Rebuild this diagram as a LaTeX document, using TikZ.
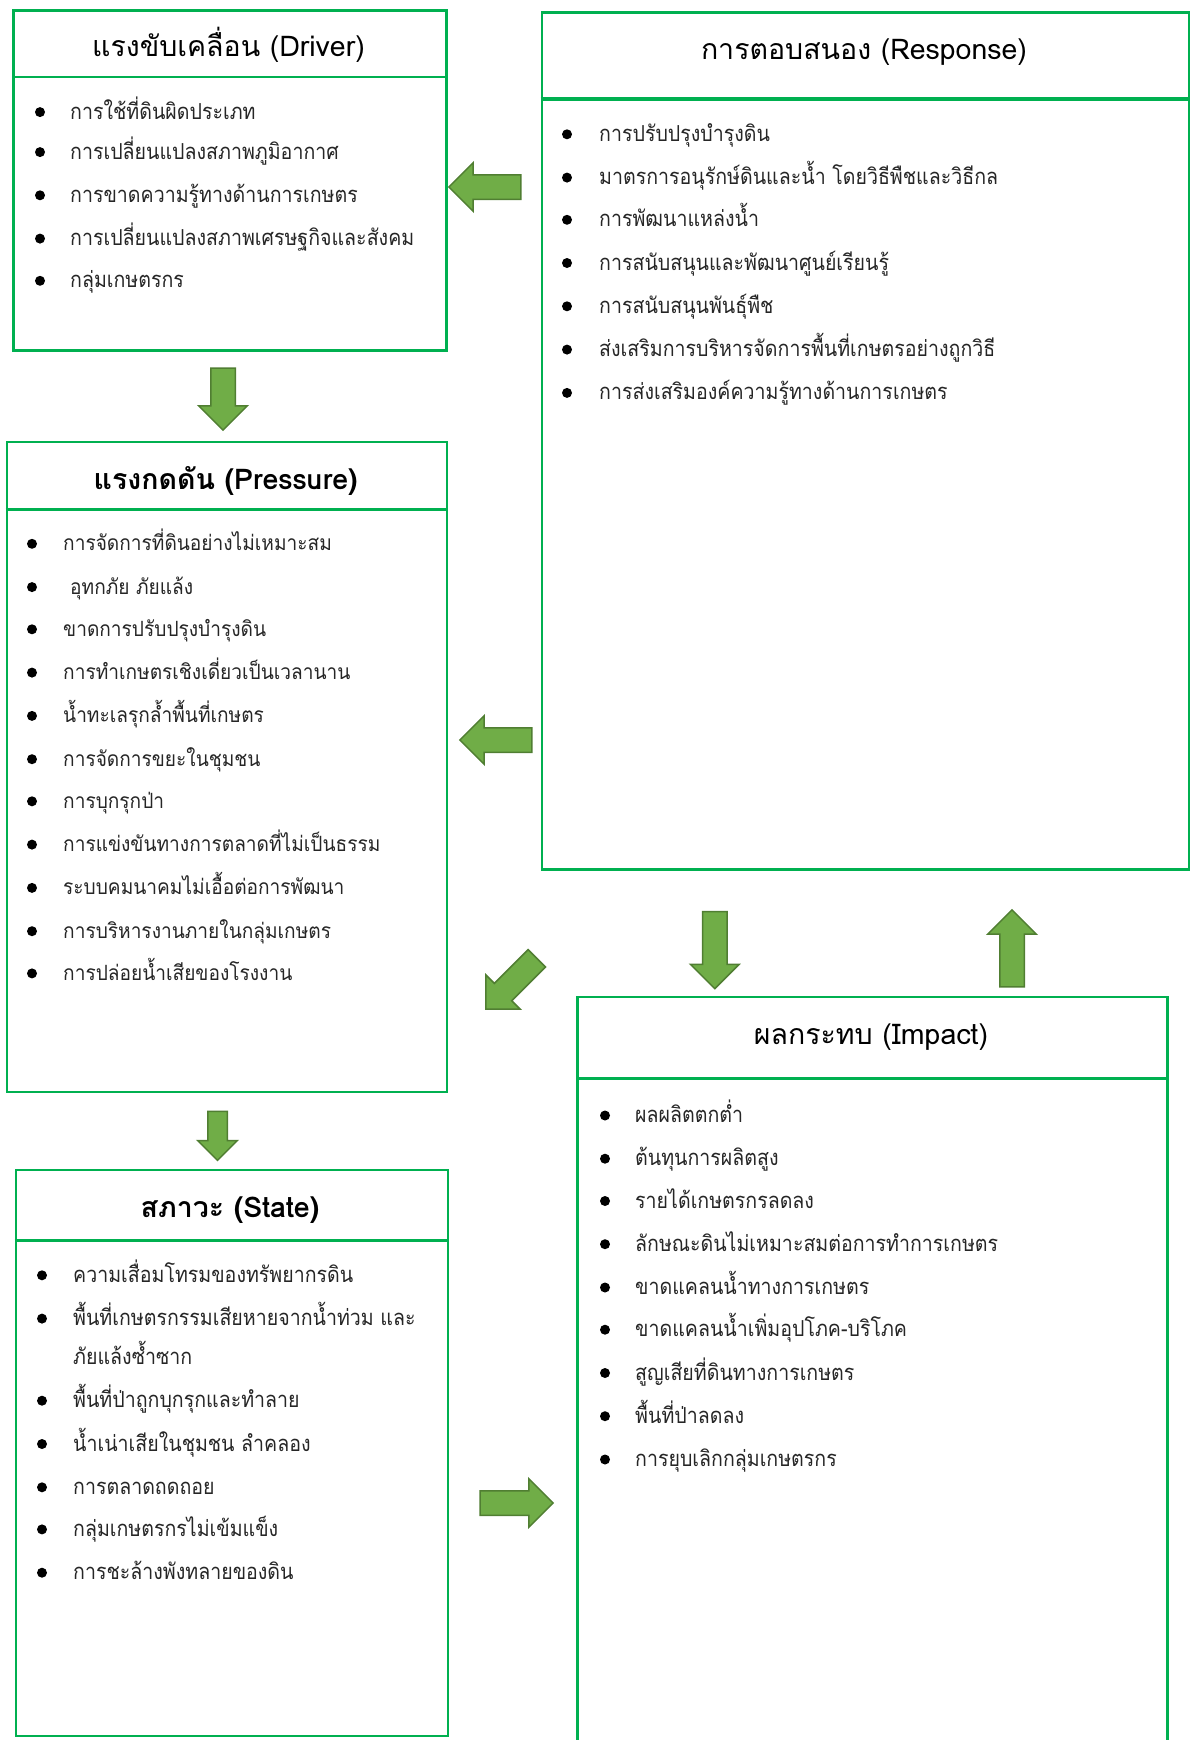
\documentclass[tikz,border=0pt]{standalone}
\usepackage{fontspec}
\usetikzlibrary{shapes.arrows}
\newfontfamily\thfont[Script=Thai]{Loma}
\newfontfamily\thfontc[Script=Thai,FakeStretch=0.89]{Loma}
\newfontfamily\thfontp[Script=Thai,FakeStretch=0.91]{Loma}
\definecolor{boxgreen}{HTML}{00B050}
\definecolor{arrfill}{HTML}{70AD47}
\definecolor{arrdraw}{HTML}{507E32}
\tikzset{
  box/.style={draw=boxgreen, line width=2.5pt, rectangle, inner sep=0pt, anchor=north west},
  hline/.style={draw=boxgreen, line width=2.5pt},
  title/.style={font=\thfont\fontsize{28.5}{32}\selectfont, inner sep=0pt, anchor=base},
  btitle/.style={title, font=\thfont\bfseries\fontsize{28.5}{32}\selectfont},
  item/.style={font=\thfontc\fontsize{22}{25}\selectfont, anchor=base west, inner sep=0pt, text=black!85},
  pitem/.style={item, font=\thfontp\fontsize{21}{25}\selectfont},
  dot/.style={circle, fill=black, inner sep=0pt, minimum size=10pt},
  barrow/.style={single arrow, draw=arrdraw, fill=arrfill, line width=1.5pt, inner sep=11.5pt,
    single arrow head extend=12pt, single arrow tip angle=90, minimum height=72pt},
}
\begin{document}
\begin{tikzpicture}[x=1pt,y=-1pt]
\useasboundingbox (0,0) rectangle (1192,1740);
% boxes
\node[box, minimum width=433pt, minimum height=340pt] (driver) at (12,9) {};
\node[box, minimum width=647pt, minimum height=857pt] (response) at (540.5,11) {};
\node[box, minimum width=440pt, minimum height=650pt] (pressure) at (5.5,440.5) {};
\node[box, minimum width=432pt, minimum height=566pt] (state) at (14.5,1168.5) {};
\node[box, minimum width=590pt, minimum height=760pt] (impact) at (576,995.5) {};
% header lines
\draw[hline] ([yshift=-68pt]driver.north west) -- ([yshift=-68pt]driver.north east);
\draw[hline, line width=4pt] ([yshift=-88pt]response.north west) -- ([yshift=-88pt]response.north east);
\draw[hline] ([yshift=-69pt]pressure.north west) -- ([yshift=-69pt]pressure.north east);
\draw[hline] ([yshift=-72pt]state.north west) -- ([yshift=-72pt]state.north east);
\draw[hline] ([yshift=-83pt]impact.north west) -- ([yshift=-83pt]impact.north east);
% titles
\node[title] (tdriver) at (228.5,56) {แรงขับเคลื่อน (Driver)};
\node[title] (tresponse) at (864,59.5) {การตอบสนอง (Response)};
\node[btitle] (tpressure) at (225.7,489) {แรงกดดัน (Pressure)};
\node[btitle] (tstate) at (230,1217) {สภาวะ (State)};
\node[title] (timpact) at (871,1044) {ผลกระทบ (Impact)};
% driver items
\foreach \y/\t [count=\i] in {112.1/การใช้ที่ดินผิดประเภท, 152.1/การเปลี่ยนแปลงสภาพภูมิอากาศ, 195.3/การขาดความรู้ทางด้านการเกษตร, 238.6/การเปลี่ยนแปลงสภาพเศรษฐกิจและสังคม, 280.8/กลุ่มเกษตรกร}{
  \node[dot] (db\i) at (40,\y) {};
  \node[item] (dt\i) at (70,\y+7) {\t};
}
% response items
\foreach \y/\t [count=\i] in {134.3/การปรับปรุงบำรุงดิน, 177.6/มาตรการอนุรักษ์ดินและน้ำ โดยวิธีพืชและวิธีกล, 219.8/การพัฒนาแหล่งน้ำ, 263/การสนับสนุนและพัฒนาศูนย์เรียนรู้, 306.3/การสนับสนุนพันธุ์พืช, 349.6/ส่งเสริมการบริหารจัดการพื้นที่เกษตรอย่างถูกวิธี, 392.9/การส่งเสริมองค์ความรู้ทางด้านการเกษตร}{
  \node[dot] (rb\i) at (567,\y) {};
  \node[item] (rt\i) at (599,\y+7) {\t};
}
% pressure items
\foreach \y/\x/\t [count=\i] in {543.8/63/การจัดการที่ดินอย่างไม่เหมาะสม, 587.1/70/อุทกภัย ภัยแล้ง, 629.3/63/ขาดการปรับปรุงบำรุงดิน, 672.6/63/การทำเกษตรเชิงเดี่ยวเป็นเวลานาน, 715.9/63/น้ำทะเลรุกล้ำพื้นที่เกษตร, 759.2/63/การจัดการขยะในชุมชน, 801.3/63/การบุกรุกป่า, 844.6/63/การแข่งขันทางการตลาดที่ไม่เป็นธรรม, 887.9/63/ระบบคมนาคมไม่เอื้อต่อการพัฒนา, 931.2/63/การบริหารงานภายในกลุ่มเกษตร, 973.4/63/การปล่อยน้ำเสียของโรงงาน}{
  \node[dot] (pb\i) at (32,\y) {};
  \node[pitem] (pt\i) at (\x,\y+7) {\t};
}
% state items
\foreach \y/\t [count=\i] in {1275.3/ความเสื่อมโทรมของทรัพยากรดิน, 1318.6/พื้นที่เกษตรกรรมเสียหายจากน้ำท่วม และ, 1400.7/พื้นที่ป่าถูกบุกรุกและทำลาย, 1444/น้ำเน่าเสียในชุมชน ลำคลอง, 1487.3/การตลาดถดถอย, 1529.4/กลุ่มเกษตรกรไม่เข้มแข็ง, 1572.7/การชะล้างพังทลายของดิน}{
  \node[dot] (sb\i) at (42,\y) {};
  \node[item] (st\i) at (73,\y+7) {\t};
}
\node[item] (st2b) at (73,1364.4) {ภัยแล้งซ้ำซาก};
% impact items
\foreach \y/\t [count=\i] in {1115.5/ผลผลิตตกต่ำ, 1158.7/ต้นทุนการผลิตสูง, 1201/รายได้เกษตรกรลดลง, 1244.2/ลักษณะดินไม่เหมาะสมต่อการทำการเกษตร, 1287.5/ขาดแคลนน้ำทางการเกษตร, 1329.7/ขาดแคลนน้ำเพิ่มอุปโภค-บริโภค, 1373/สูญเสียที่ดินทางการเกษตร, 1416.2/พื้นที่ป่าลดลง, 1459.5/การยุบเลิกกลุ่มเกษตรกร}{
  \node[dot] (ib\i) at (605,\y) {};
  \node[item] (it\i) at (635,\y+7) {\t};
}
% block arrows
\node[barrow, rotate=180] (a1) at (491,187) {};
\node[barrow, rotate=180] (a2) at (502,740) {};
\node[barrow, rotate=-90, minimum height=62pt] (a3) at (223,393) {};
\node[barrow, rotate=225, minimum height=72pt] (a4) at (515.7,979.4) {};
\node[barrow, rotate=-90, minimum height=77pt] (a5) at (714.8,944) {};
\node[barrow, rotate=90, minimum height=77pt] (a6) at (1012,954.5) {};
\node[barrow, rotate=-90, minimum height=49pt, inner sep=9pt, single arrow head extend=10pt] (a7) at (217.5,1131) {};
\node[barrow, minimum height=73pt] (a8) at (510.5,1503) {};
\end{tikzpicture}
\end{document}
